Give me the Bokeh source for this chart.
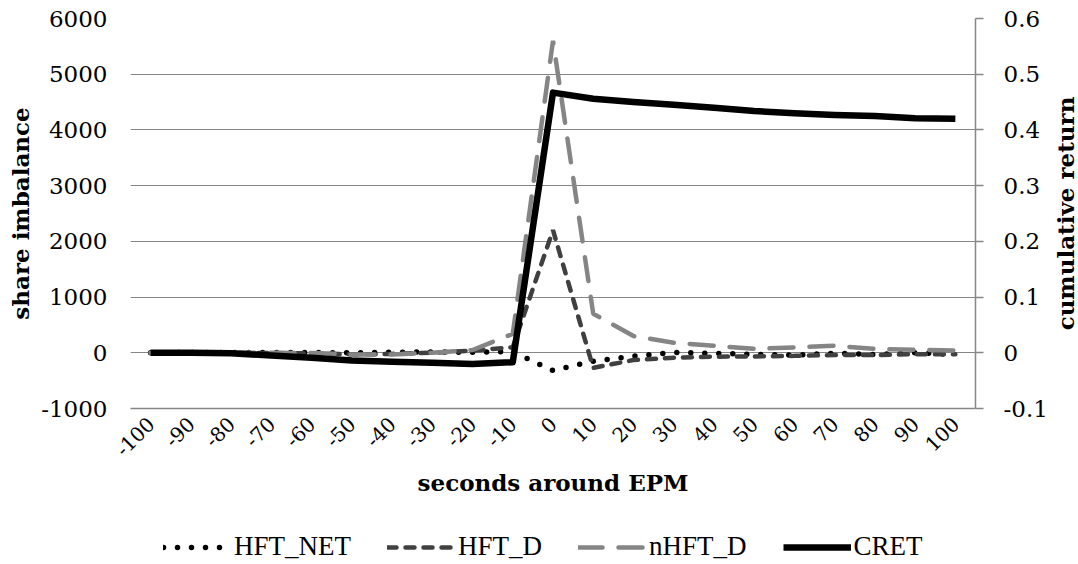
from math import pi
from bokeh.plotting import figure
from bokeh.layouts import column, row
from bokeh.models import (Range1d, FactorRange, LinearAxis, FixedTicker,
                          CustomJSTickFormatter, Legend, LegendItem, Title)
from bokeh.embed import file_html
from bokeh.resources import INLINE

# ---- data ----
seconds = ["-100", "-90", "-80", "-70", "-60", "-50", "-40", "-30", "-20", "-10",
           "0", "10", "20", "30", "40", "50", "60", "70", "80", "90", "100"]
hft_net = [0, 5, 5, 5, 5, 0, 10, 15, 10, 20, -320, -150, -60, 5, -10, -30, -40, -10, -30, 0, -30]
hft_d = [0, 0, 0, -5, -10, -30, -20, 0, 40, 100, 2200, -270, -130, -90, -70, -65, -55, -40, -40, -25, -25]
nhft_d = [0, 0, 0, 0, -5, -30, -30, 0, 50, 340, 5600, 700, 300, 180, 125, 70, 95, 125, 70, 55, 40]
cret = [0, 0, -0.001, -0.005, -0.009, -0.014, -0.016, -0.018, -0.02, -0.017,
        0.467, 0.456, 0.45, 0.445, 0.44, 0.434, 0.43, 0.427, 0.425, 0.421, 0.42]
left_ticks = [-1000, 0, 1000, 2000, 3000, 4000, 5000, 6000]
right_ticks = [-0.1, 0, 0.1, 0.2, 0.3, 0.4, 0.5, 0.6]
series_names = ["HFT_NET", "HFT_D", "nHFT_D", "CRET"]

SERIF = "DejaVu Serif"
GRID = "#868686"
STYLES = [dict(line_color="black", line_width=5.5, line_dash="0 14", line_cap="round"),
          dict(line_color="#404040", line_width=4.5, line_dash="9 9", line_cap="round"),
          dict(line_color="#858585", line_width=4.5, line_dash="24 16", line_cap="round"),
          dict(line_color="black", line_width=6.5, line_join="round")]

p = figure(width=1050, height=530, x_range=FactorRange(*seconds),
           y_range=Range1d(-1000, 6000), output_backend="svg", toolbar_location=None,
           min_border_left=130, min_border_right=73, min_border_top=18, min_border_bottom=122)
p.extra_y_ranges = {"ret": Range1d(-0.1, 0.6)}
p.outline_line_color = None
p.xgrid.grid_line_color = None
p.ygrid.grid_line_color = GRID
p.ygrid.grid_line_width = 1

# left axis
ya = p.yaxis[0]
ya.ticker = FixedTicker(ticks=left_ticks)
ya.formatter = CustomJSTickFormatter(code="return String(Math.round(tick));")
ya.axis_line_color = None
ya.major_tick_line_color = None
ya.minor_tick_line_color = None
ya.major_tick_out = 0
ya.major_label_standoff = 23
ya.major_label_text_font = SERIF
ya.major_label_text_font_size = "23px"
ya.major_label_text_color = "black"
ya.axis_label = "share imbalance"
ya.axis_label_text_font = SERIF
ya.axis_label_text_font_style = "bold"
ya.axis_label_text_font_size = "23px"
ya.axis_label_text_color = "black"
ya.axis_label_standoff = 4

# right axis (its title is drawn by the narrow strip to the right)
ra = LinearAxis(y_range_name="ret", ticker=FixedTicker(ticks=right_ticks),
                formatter=CustomJSTickFormatter(code="return String(Math.round(tick*10)/10);"))
ra.axis_line_color = GRID
ra.axis_line_width = 1.5
ra.major_tick_line_color = GRID
ra.major_tick_line_width = 1.5
ra.major_tick_in = 0
ra.major_tick_out = 8
ra.minor_tick_line_color = None
ra.major_label_standoff = 20
ra.major_label_text_font = SERIF
ra.major_label_text_font_size = "23px"
ra.major_label_text_color = "black"
p.add_layout(ra, "right")

# x axis
xa = p.xaxis[0]
xa.axis_line_color = GRID
xa.axis_line_width = 1.5
xa.major_tick_line_color = None
xa.minor_tick_line_color = None
xa.major_tick_out = 0
xa.major_label_orientation = pi / 4
xa.major_label_text_align = "right"
xa.major_label_standoff = 12
xa.major_label_text_font = SERIF
xa.major_label_text_font_size = "20px"
xa.major_label_text_color = "black"
xa.axis_label = "seconds around EPM"
xa.axis_label_text_font = SERIF
xa.axis_label_text_font_style = "bold"
xa.axis_label_text_font_size = "23px"
xa.axis_label_text_color = "black"
xa.axis_label_standoff = 3

p.line(seconds, hft_net, **STYLES[0])
p.line(seconds, hft_d, **STYLES[1])
p.line(seconds, nhft_d, **STYLES[2])
p.line(seconds, cret, y_range_name="ret", **STYLES[3])

# narrow strip carrying the right-hand axis title, read bottom-to-top
side = figure(width=28, height=530, output_backend="svg", toolbar_location=None,
              min_border_left=0, min_border_right=0, min_border_top=18, min_border_bottom=122,
              x_axis_type=None, y_axis_type=None, x_range=Range1d(0, 1), y_range=Range1d(0, 1))
side.outline_line_color = None
side.grid.grid_line_color = None
side.add_layout(Title(text="cumulative return", align="center", standoff=0, offset=0,
                      text_font=SERIF, text_font_style="bold", text_font_size="23px",
                      text_color="black"), "left")

# legend strip underneath (same line styles; placeholder renderers draw nothing)
lg = figure(width=1078, height=32, output_backend="svg", toolbar_location=None,
            min_border_left=130, min_border_right=101, min_border_top=0, min_border_bottom=0,
            x_axis_type=None, y_axis_type=None,
            x_range=Range1d(0, 1), y_range=Range1d(0, 1))
lg.outline_line_color = None
lg.grid.grid_line_color = None
items = []
for name, st in zip(series_names, STYLES):
    r = lg.line(x=[0.0], y=[float("nan")], **st)
    items.append(LegendItem(label=name, renderers=[r]))
legend = Legend(items=items, orientation="horizontal", location=(33, 0),
                border_line_color=None, background_fill_alpha=0,
                padding=0, margin=0, spacing=36, glyph_width=68, glyph_height=24,
                label_height=24, label_standoff=3, label_text_font="Liberation Serif",
                label_text_font_size="27px", label_text_color="black")
lg.add_layout(legend)

page = column(row(p, side, spacing=0), lg, spacing=0)
open("out.html", "w").write(file_html(page, INLINE))
